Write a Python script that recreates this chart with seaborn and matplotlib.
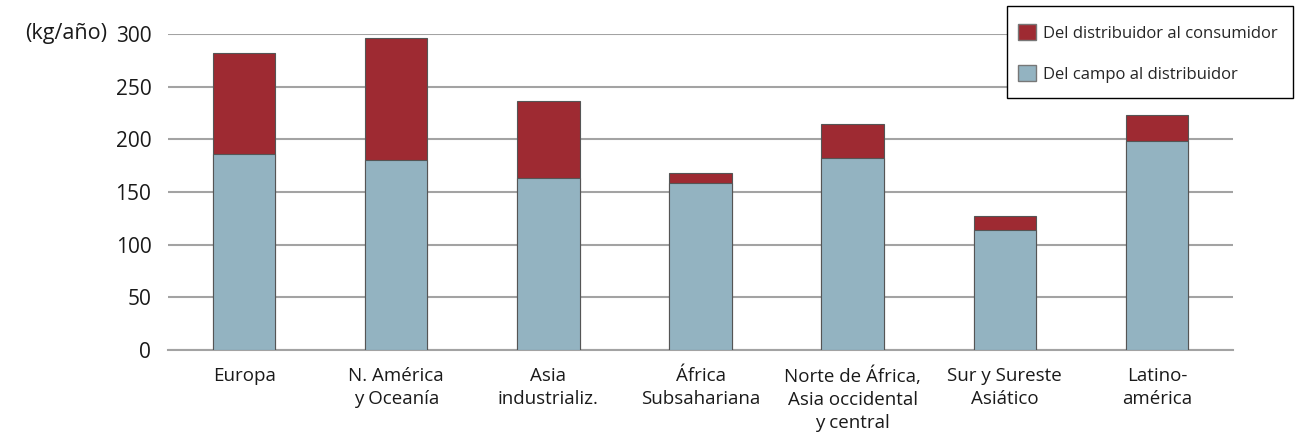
import numpy as np
import pandas as pd
import seaborn as sns
import matplotlib.pyplot as plt
from matplotlib.patches import Patch, Rectangle

regiones = ["Europa", "N. América\ny Oceanía", "Asia\nindustrializ.", "África\nSubsahariana",
            "Norte de África,\nAsia occidental\ny central", "Sur y Sureste\nAsiático", "Latino-\namérica"]
campo_distribuidor = [186, 180, 163, 159, 182, 114, 198]
distribuidor_consumidor = [96, 116, 73, 9, 33, 13, 25]

rojo = "#9e2a32"
azul = "#93b3c1"

df = pd.DataFrame({"region": regiones,
                   "campo": campo_distribuidor,
                   "consumidor": distribuidor_consumidor})
df["total"] = df["campo"] + df["consumidor"]

sns.set_style("white")
plt.rcParams["font.family"] = ["Open Sans", "DejaVu Sans"]

W, H = 1306, 438
fig = plt.figure(figsize=(W / 100, H / 100), dpi=100)
ax = fig.add_axes([168 / W, 1 - 350 / H, (1233 - 168) / W, (350 - 34) / H])

# stacked bars: totals first, lower part drawn over it
sns.barplot(data=df, x="region", y="total", color=rojo, width=0.41, saturation=1,
            edgecolor="#555555", linewidth=0.8, ax=ax, zorder=3)
sns.barplot(data=df, x="region", y="campo", color=azul, width=0.41, saturation=1,
            edgecolor="#555555", linewidth=0.8, ax=ax, zorder=3)

ax.set_ylim(0, 300)
ax.set_xlim(-0.5, len(regiones) - 0.5)
ax.set_yticks(range(0, 301, 50))
ax.yaxis.grid(True, color="#a3a3a3", linewidth=1.5, zorder=0)
ax.set_axisbelow(True)

for s in ["top", "right", "left"]:
    ax.spines[s].set_visible(False)
ax.spines["bottom"].set_color("#a3a3a3")
ax.spines["bottom"].set_linewidth(1.5)

ax.set_xticks(np.arange(len(regiones)))
ax.set_xticklabels(regiones, fontsize=13.5, linespacing=1.36, va="top")
ax.set_xticks(np.arange(-0.5, len(regiones)), minor=True)
ax.tick_params(axis="x", which="major", length=0, pad=12, colors="#1a1a1a")
ax.tick_params(axis="x", which="minor", length=4, width=1.2, color="#a3a3a3", direction="out")
ax.tick_params(axis="y", length=0, pad=12, labelsize=15, colors="#1a1a1a")
ax.set_xlabel("")
ax.set_ylabel("")

fig.text(25 / W, 1 - 34 / H, "(kg/año)", fontsize=15.5, color="#1a1a1a", va="center", ha="left")

# legend box drawn separately so padding can differ horizontally / vertically
fig.patches.append(Rectangle((1007 / W, 1 - 98 / H), (1293 - 1007) / W, (98 - 6) / H,
                             transform=fig.transFigure, facecolor="white", edgecolor="black",
                             linewidth=1.0, zorder=5))
handles = [Patch(facecolor=rojo, edgecolor="#777777", label="Del distribuidor al consumidor"),
           Patch(facecolor=azul, edgecolor="#777777", label="Del campo al distribuidor")]
leg = fig.legend(handles=handles, loc="upper left", bbox_to_anchor=(1018 / W, 1 - 24 / H),
                 frameon=False, fontsize=12, handlelength=1.1, handleheight=1.1,
                 handletextpad=0.4, labelspacing=1.4, borderpad=0, borderaxespad=0)
leg.set_zorder(6)

fig.savefig("out.png", dpi=100)
